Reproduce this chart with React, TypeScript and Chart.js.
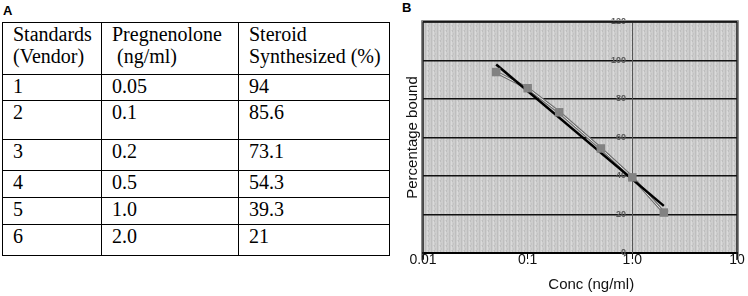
import React, { useEffect, useRef } from "react";
import { Chart, registerables } from "chart.js";

Chart.register(...registerables);

// ---- Table (panel A) data ----
const headerStandards = ["Standards", "(Vendor)"];
const headerPreg = ["Pregnenolone", "\u00a0(ng/ml)"];
const headerSteroid = ["Steroid", "Synthesized (%)"];
const standards = ["1", "2", "3", "4", "5", "6"];
const pregLabels = ["0.05", "0.1", "0.2", "0.5", "1.0", "2.0"];
const steroidLabels = ["94", "85.6", "73.1", "54.3", "39.3", "21"];

// ---- Chart (panel B) data ----
const concValues = [0.05, 0.1, 0.2, 0.5, 1.0, 2.0];
const boundValues = [94, 85.6, 73.1, 54.3, 39.3, 21];
const fitConc = [0.05, 2.0];
const fitBound = [97.9, 24.5];
const xTickValues = [0.01, 0.1, 1, 10];
const xTickLabels = ["0.01", "0.1", "1.0", "10"];
const yTickStep = 20;
const yMin = 0;
const yMax = 120;

const rowHeights = [52, 26, 39, 31, 27, 27, 31];
const colWidths = [99, 137, 151];

function makePattern(ctx: CanvasRenderingContext2D) {
  const c = document.createElement("canvas");
  c.width = 6;
  c.height = 5;
  const p = c.getContext("2d")!;
  p.fillStyle = "#cdcdcd";
  p.fillRect(0, 0, 6, 5);
  p.fillStyle = "#bebebe";
  p.fillRect(1, 0, 1, 5);
  p.fillRect(4, 0, 1, 2);
  p.fillStyle = "#dadada";
  p.fillRect(3, 1, 1, 4);
  p.fillStyle = "#c4c4c4";
  p.fillRect(5, 3, 1, 2);
  return ctx.createPattern(c, "repeat");
}

export default function App() {
  const ref = useRef<HTMLCanvasElement>(null);

  useEffect(() => {
    document.body.style.margin = "0";
    const canvas = ref.current!;
    const ctx = canvas.getContext("2d")!;
    const pattern = makePattern(ctx);
    Chart.defaults.font.family = "'Liberation Sans', Arial, sans-serif";

    const bgPlugin = {
      id: "plotBg",
      beforeDraw(chart: any) {
        const { ctx: c, chartArea: a } = chart;
        c.save();
        c.fillStyle = pattern as any;
        c.fillRect(a.left, a.top, a.right - a.left, a.bottom - a.top);
        c.restore();
      },
      afterDraw(chart: any) {
        const { ctx: c, chartArea: a } = chart;
        c.save();
        c.strokeStyle = "#8a8a8a";
        c.lineWidth = 1;
        c.beginPath();
        c.moveTo(a.left - 1.5, a.bottom + 7);
        c.lineTo(a.left - 1.5, a.top - 1.5);
        c.lineTo(a.right + 1.5, a.top - 1.5);
        c.lineTo(a.right + 1.5, a.bottom + 7);
        c.stroke();
        c.strokeStyle = "#1a1a1a";
        c.lineWidth = 1.5;
        c.beginPath();
        c.moveTo(a.left, a.bottom + 7);
        c.lineTo(a.left, a.top);
        c.lineTo(a.right, a.top);
        c.lineTo(a.right, a.bottom + 7);
        c.stroke();
        c.restore();
      },
    };

    const pts = concValues.map((x, i) => ({ x, y: boundValues[i] }));
    const fit = fitConc.map((x, i) => ({ x, y: fitBound[i] }));

    const chart = new Chart(ctx, {
      type: "scatter",
      data: {
        datasets: [
          {
            label: "Standards",
            data: pts,
            pointStyle: "rect",
            pointRadius: 6,
            backgroundColor: "#828282",
            borderWidth: 0,
            showLine: false,
            order: 0,
          },
          {
            label: "Fit",
            data: fit,
            showLine: true,
            borderColor: "#000",
            borderWidth: 2.5,
            pointRadius: 0,
            order: 1,
          },
          {
            label: "Connect inner",
            data: pts,
            showLine: true,
            borderColor: "#e8e8e8",
            borderWidth: 1,
            pointRadius: 0,
            order: 2,
          },
          {
            label: "Connect outer",
            data: pts,
            showLine: true,
            borderColor: "#707070",
            borderWidth: 3,
            pointRadius: 0,
            order: 3,
          },
        ],
      },
      options: {
        animation: false,
        responsive: false,
        layout: { padding: { top: 22, right: 11, left: 0, bottom: 0 } },
        plugins: { legend: { display: false }, tooltip: { enabled: false } },
        scales: {
          x: {
            type: "logarithmic",
            min: 0.01,
            max: 10,
            position: "bottom",
            afterBuildTicks: (s: any) => {
              s.ticks = xTickValues.map((v) => ({ value: v }));
            },
            afterFit: (s: any) => {
              s.height = 43;
            },
            ticks: {
              callback: (_v: any, i: number) => xTickLabels[i],
              font: { size: 14 },
              color: "#111",
              padding: -7,
              maxRotation: 0,
              autoSkip: false,
            },
            grid: { drawOnChartArea: false, drawTicks: true, tickLength: 6, color: "#111", lineWidth: 1 },
            border: { color: "#000", width: 2 },
            title: {
              display: true,
              text: "\u2003\u2002Conc (ng/ml)",
              font: { size: 15 },
              color: "#111",
              padding: { top: 0, bottom: 2 },
            },
          },
          y: {
            type: "linear",
            min: yMin,
            max: yMax,
            position: { x: 1 } as any,
            ticks: {
              stepSize: yTickStep,
              font: { size: 9, weight: "bold" },
              color: "#5a5a5a",
              callback: (v: any) => `${v}\u2002\u2009`,
            },
            grid: { color: "#111", lineWidth: 1.5, drawTicks: false },
            border: { color: "#555", width: 1 },
          },
          yTitle: {
            type: "linear",
            min: yMin,
            max: yMax,
            position: "left",
            afterFit: (s: any) => {
              s.width = 53;
            },
            ticks: { display: false },
            grid: { display: false },
            border: { display: false },
            title: {
              display: true,
              text: "Percentage bound",
              font: { size: 15 },
              color: "#111",
              padding: { top: 34, bottom: 0 },
            },
          },
        },
      } as any,
      plugins: [bgPlugin],
    });
    return () => chart.destroy();
  }, []);

  const cellStyle = (h: number): React.CSSProperties => ({
    border: "1px solid #000",
    padding: "0 0 0 10px",
    verticalAlign: "top",
    height: h - 1,
    lineHeight: "22px",
    fontSize: 20,
    whiteSpace: "nowrap",
    overflow: "hidden",
  });

  const bodyRows = standards.map((s, i) => [s, pregLabels[i], steroidLabels[i]]);

  return (
    <div
      style={{
        position: "fixed",
        left: 0,
        top: 0,
        width: 748,
        height: 296,
        background: "#fff",
        overflow: "hidden",
        fontFamily: "'Liberation Serif', 'Times New Roman', serif",
        color: "#000",
      }}
    >
      <div
        style={{
          position: "absolute",
          left: 3,
          top: 4,
          font: "bold 13px/13px 'Liberation Sans', Arial, sans-serif",
        }}
      >
        A
      </div>
      <div
        style={{
          position: "absolute",
          left: 402,
          top: 1,
          font: "bold 13px/13px 'Liberation Sans', Arial, sans-serif",
        }}
      >
        B
      </div>
      <table
        style={{
          position: "absolute",
          left: 2,
          top: 22,
          borderCollapse: "collapse",
          tableLayout: "fixed",
          width: colWidths.reduce((a, b) => a + b, 0),
        }}
      >
        <colgroup>
          {colWidths.map((w, i) => (
            <col key={i} style={{ width: w }} />
          ))}
        </colgroup>
        <tbody>
          <tr>
            {[headerStandards, headerPreg, headerSteroid].map((h, i) => (
              <td key={i} style={cellStyle(rowHeights[0])}>
                {h[0]}
                <br />
                {h[1]}
              </td>
            ))}
          </tr>
          {bodyRows.map((r, ri) => (
            <tr key={ri}>
              {r.map((c, ci) => (
                <td key={ci} style={cellStyle(rowHeights[ri + 1])}>
                  {c}
                </td>
              ))}
            </tr>
          ))}
        </tbody>
      </table>
      <canvas
        ref={ref}
        width={378}
        height={296}
        style={{ position: "absolute", left: 370, top: 0, width: 378, height: 296 }}
      />
    </div>
  );
}
